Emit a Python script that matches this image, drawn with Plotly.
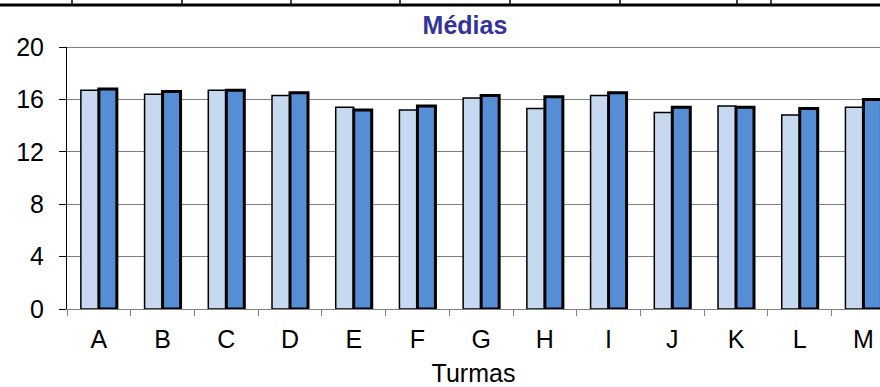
import plotly.graph_objects as go

# ---- data ----
turmas = ["A", "B", "C", "D", "E", "F", "G", "H", "I", "J", "K", "L", "M"]
serie1 = [16.7, 16.4, 16.7, 16.3, 15.4, 15.2, 16.1, 15.3, 16.3, 15.0, 15.5, 14.8, 15.4]
serie2 = [16.8, 16.6, 16.7, 16.5, 15.2, 15.5, 16.3, 16.2, 16.5, 15.4, 15.4, 15.3, 16.0]
y_ticks = [0, 4, 8, 12, 16, 20]

W, H = 880, 387
ML, MR, MT, MB = 67, 0, 47, 78
FONT = "Liberation Sans, Arial, sans-serif"
FS = 25

fig = go.Figure()
fig.add_trace(go.Bar(x=turmas, y=serie1, marker=dict(color="#C6D9F1", line=dict(color="black", width=1.5)),
                     showlegend=False, hoverinfo="skip"))
fig.add_trace(go.Bar(x=turmas, y=serie2, marker=dict(color="#558ED5", line=dict(color="black", width=3)),
                     showlegend=False, hoverinfo="skip"))

plot_w = W - ML - MR
plot_h = H - MT - MB

def px_x(p):
    return (p - ML) / plot_w

def px_y(p):
    return (H - MB - p) / plot_h

shapes = []
# decorative table border at the top of the picture
shapes.append(dict(type="line", xref="paper", yref="paper", x0=px_x(0), x1=px_x(W), y0=px_y(5), y1=px_y(5),
                   line=dict(color="black", width=3)))
for xv in [72, 182, 291, 400, 510, 620, 737, 771]:
    shapes.append(dict(type="line", xref="paper", yref="paper", x0=px_x(xv), x1=px_x(xv), y0=px_y(0), y1=px_y(5),
                       line=dict(color="black", width=1.5)))
# top border of plot area
shapes.append(dict(type="line", xref="paper", yref="y", x0=0, x1=1, y0=20, y1=20, line=dict(color="black", width=1)))

fig.update_layout(
    width=W, height=H,
    margin=dict(l=ML, r=MR, t=MT, b=MB),
    paper_bgcolor="white", plot_bgcolor="white",
    font=dict(family=FONT, size=FS, color="black"),
    title=dict(text="<b>Médias</b>", font=dict(family=FONT, size=FS, color="#333399"),
               x=px_x(465), xref="paper", xanchor="center", y=1 - 25 / H, yanchor="middle"),
    barmode="group", bargap=0.435, bargroupgap=0,
    shapes=shapes,
    xaxis=dict(type="category", range=[-0.5, 12.26], showgrid=False, showline=True, linecolor="#808080",
               linewidth=1, ticks="outside", tickson="boundaries", ticklen=6, tickcolor="#808080",
               ticklabelstandoff=8, tickfont=dict(size=FS),
               title=dict(text="Turmas", font=dict(size=FS), standoff=12)),
    yaxis=dict(range=[0, 20], tickvals=y_ticks, showgrid=True, gridcolor="#808080", gridwidth=1,
               showline=True, linecolor="black", linewidth=1, ticks="outside", ticklen=7, tickcolor="black",
               ticklabelstandoff=10, zeroline=False, tickfont=dict(size=FS)),
)

fig.write_html("out.html", post_script="document.body.style.margin='0';",
               config={"displayModeBar": False})
